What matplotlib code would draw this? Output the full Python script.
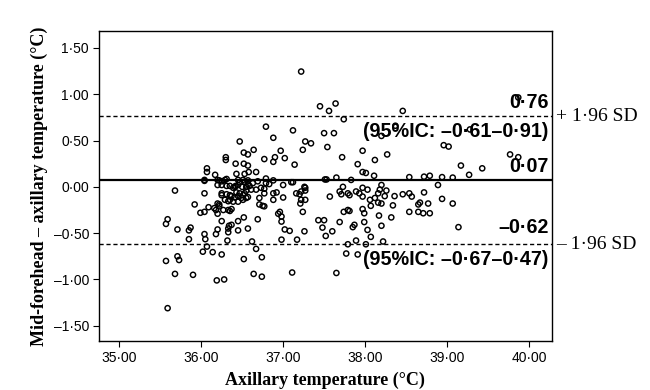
import matplotlib
matplotlib.use("Agg")
import matplotlib.pyplot as plt
from matplotlib.ticker import FuncFormatter
import matplotlib.transforms as mtransforms

# Axillary temperature (°C)
axillary = [
    37.22, 37.45, 37.56, 37.64, 37.74, 38.46, 39.87, 36.79, 37.12, 37.50,
    37.62, 36.47, 36.88, 37.27, 37.34, 37.54, 37.24, 36.97, 36.64, 36.52,
    36.57, 36.30, 36.30, 36.42, 36.52, 36.57, 36.77, 36.90, 36.88, 37.02,
    37.14, 36.07, 36.07, 36.17, 36.43, 36.53, 36.58, 36.67, 37.72, 37.97,
    38.12, 37.91, 37.97, 38.01, 38.11, 38.27, 38.20, 38.37, 39.28, 38.96,
    39.02, 39.17, 39.43, 39.77, 39.87, 39.27,
    36.22, 36.04, 36.31, 36.51, 36.47, 36.45, 36.57, 36.57, 36.59, 36.63,
    36.79, 36.79, 36.83, 36.88, 37.00, 37.10, 37.12, 37.27, 37.51, 37.53,
    36.20, 36.25, 36.35, 36.42, 35.68, 36.04, 36.25, 36.31, 36.39, 36.43,
    36.47, 36.53, 36.55, 36.37, 36.41, 36.35, 36.39, 36.45, 36.49, 36.51,
    36.55, 36.71, 36.77, 36.88, 36.92, 37.00, 36.88, 37.16, 37.20, 37.22,
    37.27, 37.22, 37.27, 37.21, 36.04, 36.20, 36.25, 36.29, 36.31, 36.45,
    36.53, 36.69, 36.41, 36.50, 36.55, 36.61, 36.67, 36.73, 36.77, 36.35,
    36.45, 36.51, 36.57, 36.25, 36.29, 36.33, 37.97, 37.65, 37.83, 37.57,
    37.69, 37.73, 37.79, 37.89, 37.93, 38.03, 38.16, 37.26, 37.71, 37.81,
    37.97, 38.06, 38.12, 38.54, 38.72, 38.79, 38.94, 39.07, 38.89, 38.20,
    38.18, 38.26, 38.24, 38.36, 38.46, 38.54, 38.57, 38.72, 38.94, 38.16,
    38.20,
    36.71, 36.75, 36.77, 35.92, 36.09, 36.04, 35.99, 36.20, 36.22, 36.22,
    36.18, 36.20, 36.27, 36.33, 36.37, 36.16, 36.35, 36.96, 36.94, 36.98,
    37.24, 36.69, 36.52, 36.25, 36.45, 36.37, 36.33, 36.33, 36.45, 36.57,
    36.20, 36.18, 35.87, 35.85, 35.71, 35.59, 35.57, 36.04, 36.05, 35.85,
    36.32, 36.98, 37.02, 37.08, 36.98, 37.26, 37.17, 37.43, 37.50, 37.48,
    37.52, 36.62, 36.07, 36.02, 36.14, 36.25, 36.67, 36.74, 36.52, 35.57,
    35.71, 35.73, 35.68, 35.90, 36.19, 36.28, 36.64, 36.74, 37.11, 35.59,
    36.34, 38.65, 38.67, 38.77, 39.07, 38.34, 38.54, 38.65, 38.71, 38.79,
    38.17, 38.32, 38.20, 39.14, 38.22, 38.07, 37.74, 37.79, 37.81, 37.99,
    37.97, 37.69, 37.60, 37.85, 37.87, 37.99, 38.03, 38.07, 37.89, 37.79,
    37.77, 37.91, 38.01, 37.65,
]

# Mid-forehead - axillary temperature (°C)
difference = [
    1.245, 0.87, 0.82, 0.90, 0.73, 0.82, 0.965, 0.65, 0.61, 0.58,
    0.58, 0.49, 0.53, 0.49, 0.47, 0.43, 0.40, 0.39, 0.40, 0.37,
    0.35, 0.32, 0.29, 0.25, 0.25, 0.23, 0.30, 0.32, 0.27, 0.31,
    0.24, 0.20, 0.16, 0.13, 0.14, 0.14, 0.16, 0.16, 0.32, 0.39,
    0.29, 0.245, 0.16, 0.15, 0.12, 0.35, 0.55, 0.66, 0.62, 0.45,
    0.435, 0.23, 0.20, 0.35, 0.32, 0.13,
    0.07, 0.065, 0.085, 0.075, 0.05, 0.02, 0.07, 0.03, 0.01, 0.04,
    0.09, 0.04, 0.03, 0.07, 0.02, 0.05, 0.05, -0.01, 0.08, 0.08,
    0.02, 0.02, 0.01, 0.01, -0.04, -0.07, -0.07, -0.08, -0.01, -0.06,
    -0.07, -0.07, -0.04, -0.10, -0.115, -0.14, -0.16, -0.16, -0.12, -0.14,
    -0.12, -0.12, -0.07, -0.07, -0.06, -0.115, -0.14, -0.07, -0.08, -0.05,
    -0.04, -0.14, -0.14, -0.18, 0.075, 0.075, 0.06, 0.075, 0.01, 0.075,
    0.055, 0.06, 0.00, 0.00, 0.00, -0.03, -0.03, -0.01, -0.02, -0.09,
    -0.10, -0.09, -0.11, -0.09, -0.14, -0.155, -0.01, 0.10, 0.075, -0.105,
    -0.05, 0.00, -0.07, -0.05, -0.07, -0.03, -0.07, 0.00, -0.08, -0.09,
    -0.105, -0.14, -0.12, 0.105, 0.11, 0.12, 0.105, 0.10, 0.02, 0.02,
    -0.03, -0.04, -0.10, -0.10, -0.08, -0.07, -0.105, -0.06, -0.13, -0.17,
    -0.18,
    -0.19, -0.205, -0.21, -0.19, -0.22, -0.27, -0.28, -0.18, -0.19, -0.21,
    -0.25, -0.29, -0.25, -0.25, -0.24, -0.23, -0.26, -0.27, -0.29, -0.32,
    -0.27, -0.35, -0.33, -0.37, -0.37, -0.41, -0.45, -0.49, -0.47, -0.45,
    -0.46, -0.51, -0.44, -0.47, -0.46, -0.35, -0.40, -0.51, -0.565, -0.565,
    -0.58, -0.375, -0.46, -0.475, -0.57, -0.48, -0.57, -0.36, -0.36, -0.44,
    -0.53, -0.59, -0.645, -0.70, -0.705, -0.73, -0.67, -0.76, -0.78, -0.80,
    -0.75, -0.79, -0.94, -0.95, -1.01, -1.00, -0.94, -0.97, -0.925, -1.31,
    -0.42, -0.19, -0.17, -0.18, -0.18, -0.20, -0.27, -0.27, -0.285, -0.285,
    -0.31, -0.33, -0.42, -0.435, -0.59, -0.205, -0.27, -0.25, -0.26, -0.285,
    -0.24, -0.38, -0.48, -0.435, -0.41, -0.38, -0.465, -0.54, -0.58, -0.62,
    -0.72, -0.73, -0.62, -0.93,
]

mean_diff = 0.07
upper_loa = 0.76
lower_loa = -0.62
upper_ci = "(95%IC: –0·61–0·91)"
lower_ci = "(95%IC: –0·67–0·47)"
x_ticks = [35, 36, 37, 38, 39, 40]
y_ticks = [-1.5, -1.0, -0.5, 0.0, 0.5, 1.0, 1.5]

SANS = "Liberation Sans"
SERIF = "Liberation Serif"

fig = plt.figure(figsize=(6.5, 3.9), dpi=100)
ax = fig.add_axes([0.152, 0.126, 0.697, 0.795])

ax.scatter(axillary, difference, s=14, facecolors="none", edgecolors="black",
           linewidths=1.05, zorder=3)

ax.axhline(mean_diff, color="black", lw=1.6, zorder=2)
ax.axhline(upper_loa, color="black", lw=1.0, ls=(0, (3, 2)), zorder=2)
ax.axhline(lower_loa, color="black", lw=1.0, ls=(0, (3, 2)), zorder=2)

ax.set_xlim(34.75, 40.28)
ax.set_ylim(-1.663, 1.685)
ax.set_xticks(x_ticks)
ax.set_yticks(y_ticks)

fmt = FuncFormatter(lambda v, p: f"{v:.2f}".replace(".", "·").replace("-", "–"))
ax.xaxis.set_major_formatter(fmt)
ax.yaxis.set_major_formatter(fmt)
ax.tick_params(direction="out", length=4.5, width=0.8, pad=2.5, labelsize=10)
for lab in ax.get_xticklabels() + ax.get_yticklabels():
    lab.set_fontfamily(SANS)

for s in ax.spines.values():
    s.set_linewidth(1.0)

ax.set_xlabel("Axillary temperature (°C)", fontfamily=SERIF, fontweight="bold",
              fontsize=13, labelpad=5)
ax.set_ylabel("Mid-forehead – axillary temperature (°C)", fontfamily=SERIF,
              fontweight="bold", fontsize=13, labelpad=4)

trans = mtransforms.blended_transform_factory(ax.transAxes, ax.transData)
tx = 0.993
afs = 14.2
ax.annotate(f"{upper_loa:.2f}".replace(".", "·"), (tx, upper_loa), xycoords=trans,
            xytext=(0, 3), textcoords="offset points", va="bottom",
            ha="right", fontfamily=SANS, fontweight="bold", fontsize=afs)
ax.annotate(upper_ci, (tx, upper_loa), xycoords=trans, xytext=(0, -4),
            textcoords="offset points", va="top", ha="right",
            fontfamily=SANS, fontweight="bold", fontsize=afs)
ax.annotate(f"{mean_diff:.2f}".replace(".", "·"), (tx, mean_diff), xycoords=trans,
            xytext=(0, 3.5), textcoords="offset points", va="bottom",
            ha="right", fontfamily=SANS, fontweight="bold", fontsize=afs)
ax.annotate(f"{lower_loa:.2f}".replace(".", "·").replace("-", "–"), (tx, lower_loa),
            xycoords=trans, xytext=(0, 5), textcoords="offset points",
            va="bottom", ha="right", fontfamily=SANS, fontweight="bold",
            fontsize=afs)
ax.annotate(lower_ci, (tx, lower_loa), xycoords=trans, xytext=(0, -4),
            textcoords="offset points", va="top", ha="right",
            fontfamily=SANS, fontweight="bold", fontsize=afs)

ax.text(1.01, upper_loa, "+ 1·96 SD", transform=trans, ha="left", va="center",
        fontfamily=SERIF, fontsize=14, clip_on=False)
ax.text(1.01, lower_loa, "– 1·96 SD", transform=trans, ha="left", va="center",
        fontfamily=SERIF, fontsize=14, clip_on=False)

fig.savefig("out.png", dpi=100)
